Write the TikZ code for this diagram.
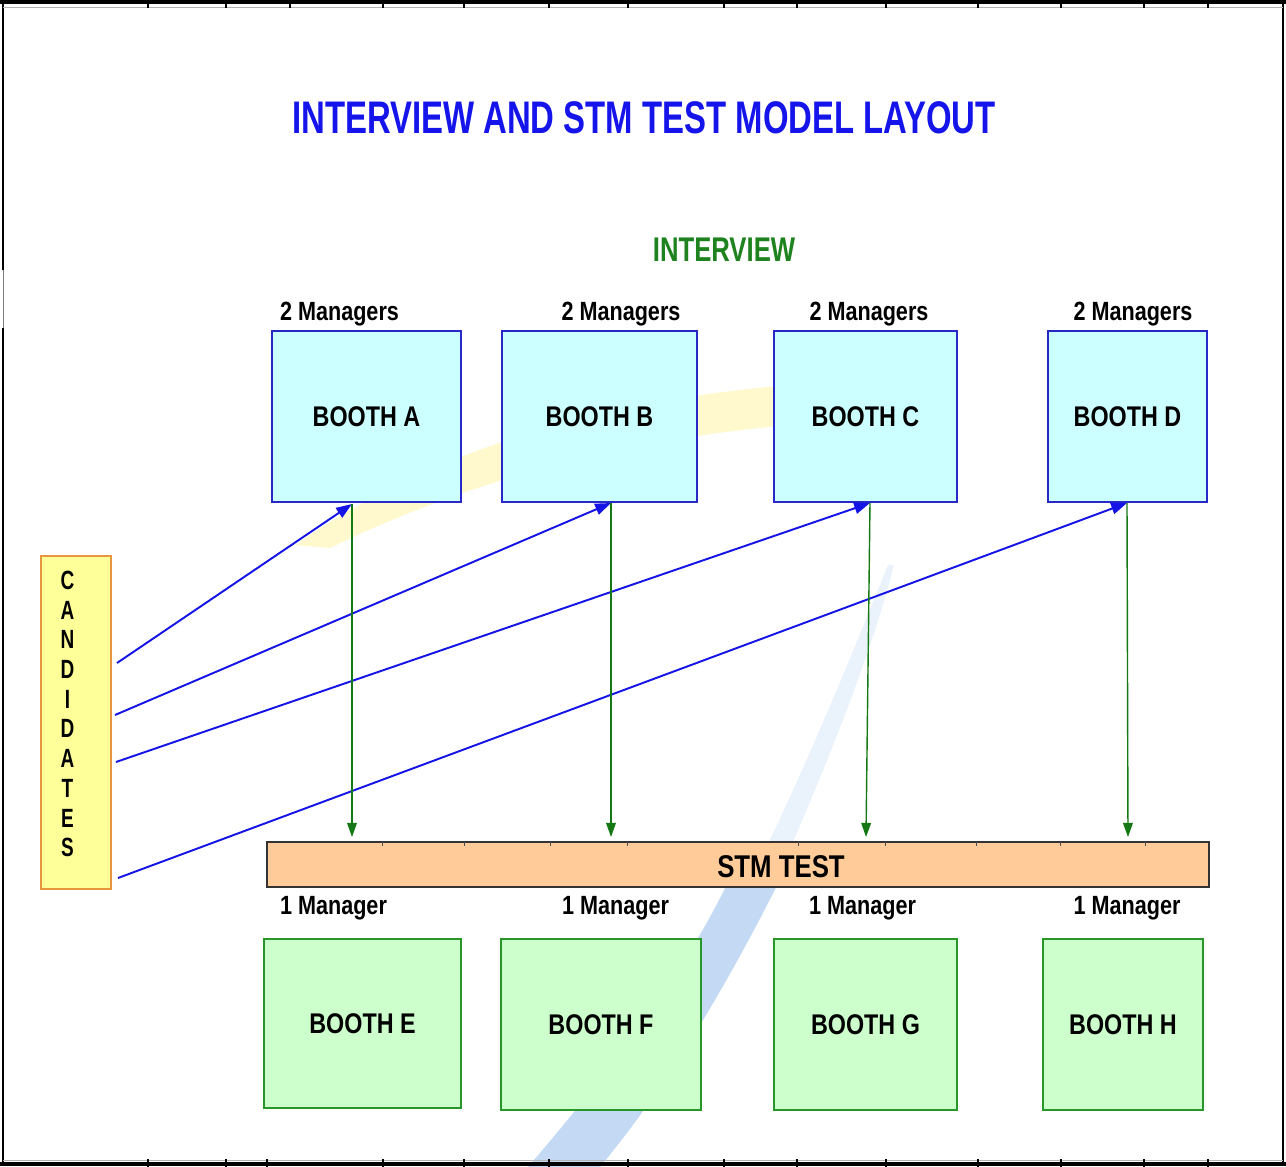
\documentclass[tikz,border=0pt]{standalone}
\usepackage{fontspec}
\newfontfamily\nar[FakeStretch=0.82]{Liberation Sans}
\newfontfamily\narT[FakeStretch=0.72]{Liberation Sans}
\newfontfamily\narI[FakeStretch=0.75]{Liberation Sans}
\usetikzlibrary{arrows.meta}
\definecolor{titleblue}{RGB}{20,20,235}
\definecolor{ivgreen}{RGB}{30,130,30}
\definecolor{cyanfill}{RGB}{204,255,255}
\definecolor{greenfill}{RGB}{204,255,204}
\definecolor{boxblue}{RGB}{40,40,200}
\definecolor{boxgreen}{RGB}{40,150,40}
\definecolor{candfill}{RGB}{255,255,153}
\definecolor{candline}{RGB}{230,150,60}
\definecolor{stmfill}{RGB}{255,204,153}
\definecolor{arrblue}{RGB}{20,20,230}
\definecolor{arrgreen}{RGB}{20,120,20}
\definecolor{wmyellow}{RGB}{255,249,205}
\definecolor{wmblue}{RGB}{196,218,244}
\begin{document}
\begin{tikzpicture}[x=0.02cm,y=-0.02cm,
  ibooth/.style={draw=boxblue,fill=cyanfill,line width=0.7pt,inner sep=0pt,
    font=\nar\bfseries\fontsize{16.2}{18}\selectfont},
  sbooth/.style={draw=boxgreen,fill=greenfill,line width=0.7pt,inner sep=0pt,
    font=\nar\bfseries\fontsize{16.2}{18}\selectfont},
  mgr/.style={font=\nar\bfseries\fontsize{15}{17}\selectfont,inner sep=0pt},
  barrow/.style={draw=arrblue,line width=1.1pt,-{Triangle[length=9pt,width=6.5pt]}},
  garrow/.style={draw=arrgreen,line width=0.8pt,-{Triangle[length=8pt,width=5.5pt]}},
  frameline/.style={draw=black,line width=1.1pt},
  tick/.style={draw=black,line width=0.8pt}]
\useasboundingbox (0,0) rectangle (1286,1167);
\fill[white] (0,0) rectangle (1286,1167);

% watermark swoosh and streak
\fill[wmyellow] (295,545) .. controls (440,445) and (610,400) .. (790,385)
  -- (790,425) .. controls (620,440) and (470,480) .. (330,548) -- cycle;
\fill[wmblue,opacity=0.35] (888,565) .. controls (850,660) and (800,780) .. (760,860)
  -- (785,860) .. controls (820,780) and (870,660) .. (894,565) -- cycle;
\fill[wmblue] (600,1167) .. controls (680,1070) and (740,960) .. (790,860)
  -- (738,860) .. controls (700,950) and (620,1060) .. (528,1167) -- cycle;

% frame
\draw[frameline] (3,3) -- (3,270);
\draw[draw=gray,line width=0.5pt] (3,270) -- (3,328);
\draw[frameline] (3,328) -- (3,1163);
\draw[frameline] (1283,3) -- (1283,1163);
\draw[draw=black,line width=1.8pt] (0,2) -- (1286,2);
\draw[draw=gray!60,line width=0.5pt] (3,7) -- (1283,7);
\draw[draw=black,line width=1.8pt] (0,1164) -- (1286,1164);
\draw[draw=gray!60,line width=0.5pt] (3,1160) -- (1283,1160);
\foreach \x in {148,226,290,383,464,549,628,724,797,886,978,1061,1144,1208}
  \draw[tick] (\x,0) -- (\x,8);
\foreach \x in {148,226,267,383,464,549,628,724,797,886,978,1061,1144,1208}
  \draw[tick] (\x,1159) -- (\x,1167);

% title
\node[font=\narT\bfseries\fontsize{26}{30}\selectfont,text=titleblue,inner sep=0pt] (title) at (644,118) {INTERVIEW AND STM TEST MODEL LAYOUT};
\node[font=\narI\bfseries\fontsize{19.5}{22}\selectfont,text=ivgreen,inner sep=0pt] (interview) at (724,250) {INTERVIEW};

% interview booths
\node[mgr] (mA) at (339.5,314) {2 Managers};
\node[mgr] (mB) at (621,314) {2 Managers};
\node[mgr] (mC) at (869,314) {2 Managers};
\node[mgr] (mD) at (1133,314) {2 Managers};
\node[ibooth,minimum width=3.78cm,minimum height=3.42cm] (A) at (366.5,416.5) {BOOTH A};
\node[ibooth,minimum width=3.90cm,minimum height=3.42cm] (B) at (599.5,416.5) {BOOTH B};
\node[ibooth,minimum width=3.66cm,minimum height=3.42cm] (C) at (865.5,416.5) {BOOTH C};
\node[ibooth,minimum width=3.18cm,minimum height=3.42cm] (D) at (1127.5,416.5) {BOOTH D};

% candidates
\node[draw=candline,fill=candfill,line width=0.7pt,minimum width=1.4cm,minimum height=6.66cm,inner sep=0pt] (cand) at (76,722.5) {};
\node[font=\narT\bfseries\fontsize{15}{16.9}\selectfont,align=center,inner sep=0pt] (candtext) at (67.5,714) {C\\A\\N\\D\\I\\D\\A\\T\\E\\S};

% STM test bar
\node[draw=black!80,fill=stmfill,line width=0.9pt,minimum width=18.84cm,minimum height=0.9cm,inner sep=0pt] (stm) at (738,864.5) {};
\foreach \x in {382,464,550,627,798,885,976,1060,1145}
  \draw[draw=black!70,line width=0.5pt] (\x,842) -- (\x,846);
\node[font=\nar\bfseries\fontsize{17.9}{20}\selectfont,inner sep=0pt] (stmlabel) at (781,867) {STM TEST};

% test booths
\node[mgr] (mE) at (333.5,908) {1 Manager};
\node[mgr] (mF) at (615.5,908) {1 Manager};
\node[mgr] (mG) at (862.5,908) {1 Manager};
\node[mgr] (mH) at (1127,908) {1 Manager};
\node[sbooth,minimum width=3.94cm,minimum height=3.38cm] (E) at (362.5,1023.5) {BOOTH E};
\node[sbooth,minimum width=4.00cm,minimum height=3.42cm] (F) at (601,1024.5) {BOOTH F};
\node[sbooth,minimum width=3.66cm,minimum height=3.42cm] (G) at (865.5,1024.5) {BOOTH G};
\node[sbooth,minimum width=3.20cm,minimum height=3.42cm] (H) at (1123,1024.5) {BOOTH H};

% connector end points
\coordinate (c1) at (117,663);
\coordinate (c2) at (115,715);
\coordinate (c3) at (116,762);
\coordinate (c4) at (118,878);
\coordinate (a1) at (352,504);
\coordinate (b1) at (611,503);
\coordinate (cc1) at (870,503);
\coordinate (d1) at (1127,503);
\coordinate (a2) at (352,837);
\coordinate (b2) at (611,837);
\coordinate (cc2) at (866,837);
\coordinate (d2) at (1128,837);

% candidate arrows
\draw[barrow] (c1) -- (a1);
\draw[barrow] (c2) -- (b1);
\draw[barrow] (c3) -- (cc1);
\draw[barrow] (c4) -- (d1);

% booth to STM arrows
\draw[garrow] (a1) -- (a2);
\draw[garrow] (b1) -- (b2);
\draw[garrow] (cc1) -- (cc2);
\draw[garrow] (d1) -- (d2);
\end{tikzpicture}
\end{document}
